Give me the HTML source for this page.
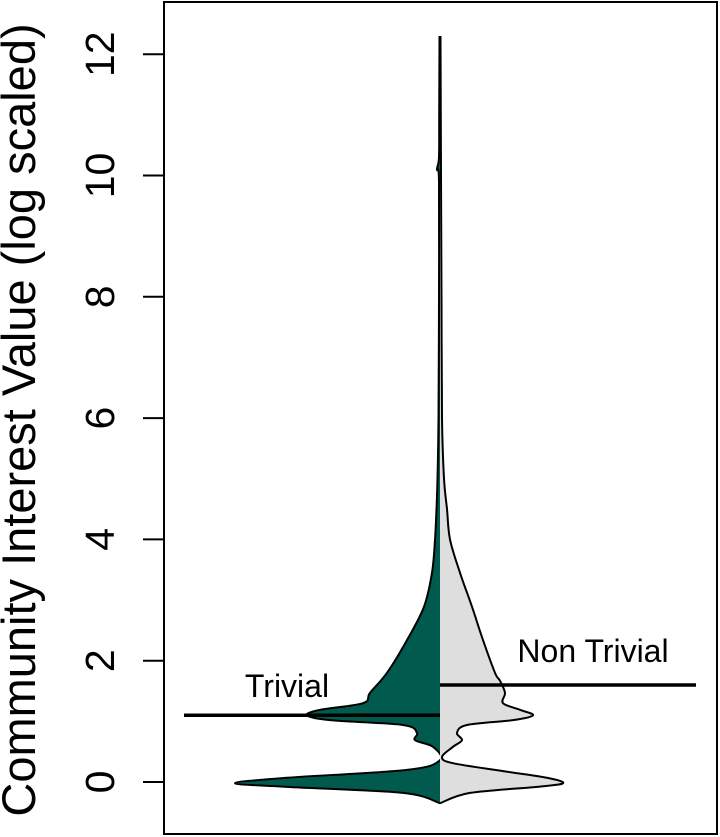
<!DOCTYPE html>
<html><head><meta charset="utf-8"><style>
html,body{margin:0;padding:0;background:#fff;}
svg{display:block;font-family:"Liberation Sans",Arial,sans-serif;}
</style></head><body>
<svg id="chart" width="720" height="837" viewBox="0 0 720 837"></svg>
<script>
const yTicks=[0,2,4,6,8,10,12];
const trivialValues=[-0.35,-0.18,-0.08,-0.02,0.07,0.20,0.36,0.58,0.69,0.81,0.94,1.02,1.10,1.19,1.30,1.47,1.80,2.34,2.89,3.45,3.99,4.5,5,6,8,9.9,10.1,10.3,11,12.3];
const trivialDensity=[0,37,153,205,153,33,0,7,25,23,37,110,133,120,77,70,53,33,16,8,5,3.5,2.5,1.5,1,1,3,1,0.8,0.5];
const nonTrivialValues=[-0.35,-0.18,-0.08,-0.02,0.07,0.18,0.31,0.41,0.58,0.69,0.81,0.94,1.02,1.10,1.19,1.30,1.47,1.67,1.80,2.34,2.89,3.45,4,4.5,5,6,8,10,12.3];
const nonTrivialDensity=[0,30,97,123,107,63,13,2,13,22,17,27,73,93,80,63,65,60,55,43,32,20,10,7,4,2,1.5,1,0.5];
const medians=[1.10,1.60];
const groupNames=["Trivial","Non Trivial"];

const NS="http://www.w3.org/2000/svg";
const svg=document.getElementById('chart');
const L=164,R=717,T=2,B=834,CX=440;
const y=v=>782-v*60.65;
const xw=d=>d*1.0;
function mk(tag,attrs,parent){const e=document.createElementNS(NS,tag);for(const k in attrs)e.setAttribute(k,attrs[k]);(parent||svg).appendChild(e);return e;}
function smooth(pts){
  let d=`M${pts[0][0]},${pts[0][1]}`;
  for(let i=0;i<pts.length-1;i++){
    const p0=pts[Math.max(0,i-1)],p1=pts[i],p2=pts[i+1],p3=pts[Math.min(pts.length-1,i+2)];
    const c1x=p1[0]+(p2[0]-p0[0])/6,c1y=p1[1]+(p2[1]-p0[1])/6;
    const c2x=p2[0]-(p3[0]-p1[0])/6,c2y=p2[1]-(p3[1]-p1[1])/6;
    d+=` C${c1x},${c1y} ${c2x},${c2y} ${p2[0]},${p2[1]}`;
  }
  return d;
}
function half(vals,dens,sign,fill,name){
  const pts=vals.map((v,i)=>[CX+sign*xw(dens[i]),y(v)]);
  const outline=smooth(pts);
  const d=outline+` L${CX},${y(vals[vals.length-1])} L${CX},${y(vals[0])} Z`;
  const p=mk('path',{d:d,fill:fill,stroke:'none'});
  
  
  const q=mk('path',{d:outline,fill:'none',stroke:'#000','stroke-width':2,'stroke-linejoin':'round'});
  
  
}
half(trivialValues,trivialDensity,-1,'#005B4E','violin-trivial');
half(nonTrivialValues,nonTrivialDensity,1,'#DEDEDE','violin-non-trivial');

const m1=mk('line',{x1:184,x2:CX,y1:y(medians[0]),y2:y(medians[0]),stroke:'#000','stroke-width':3.5});


const m2=mk('line',{x1:CX,x2:696,y1:y(medians[1]),y2:y(medians[1]),stroke:'#000','stroke-width':3.5});


const t1=mk('text',{x:287,y:697,'font-size':32,'text-anchor':'middle'});
t1.textContent=groupNames[0];


const t2=mk('text',{x:593,y:662,'font-size':32,'text-anchor':'middle'});
t2.textContent=groupNames[1];



const fr=mk('rect',{x:L,y:T,width:R-L,height:B-T,fill:'none',stroke:'#000','stroke-width':2});



yTicks.forEach(v=>{
  const tk=mk('line',{x1:143,x2:L,y1:y(v),y2:y(v),stroke:'#000','stroke-width':2});
  
  
  const tl=mk('text',{x:0,y:0,'font-size':41,'text-anchor':'middle',transform:`translate(114,${y(v)}) rotate(-90)`});
  tl.textContent=v;
  
  
});
const yt=mk('text',{x:0,y:0,'font-size':47,'text-anchor':'middle',transform:'translate(35,420) rotate(-90)'});
yt.textContent='Community Interest Value (log scaled)';


</script>
</body></html>
